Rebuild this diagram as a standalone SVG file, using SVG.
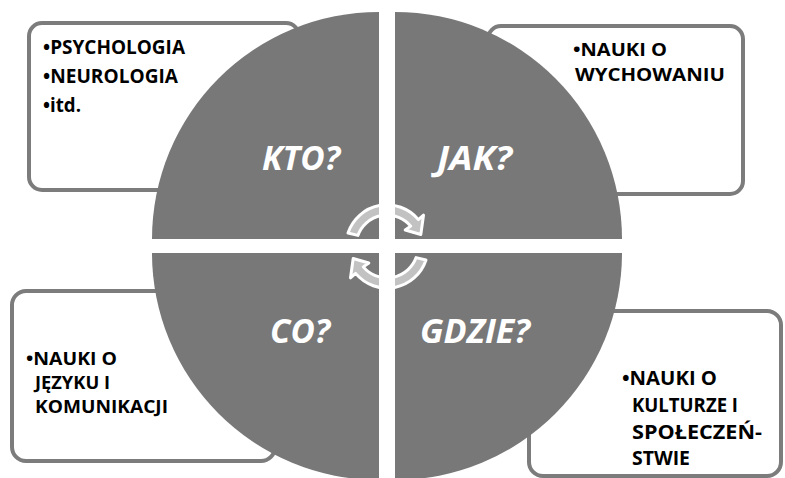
<svg xmlns="http://www.w3.org/2000/svg" width="785" height="478" viewBox="0 0 785 478">
<style>
.box{fill:#ffffff;stroke:#7c7c7c;stroke-width:4}
.q{fill:#787878}
.ql{font-family:"Open Sans","Liberation Sans",sans-serif;font-weight:bold;font-style:italic;font-size:34px;fill:#ffffff}
.bt{font-family:"Open Sans","Liberation Sans",sans-serif;font-weight:bold;font-size:19px;fill:#000000}
.sm{font-size:17.5px}
.arr{fill:#ffffff;fill-opacity:0.55;stroke:#ffffff;stroke-width:3;stroke-linejoin:round}
</style>
<rect width="785" height="478" fill="#ffffff"/>
<g id="box-kto">
<rect class="box" x="29" y="23" width="270" height="167" rx="13"/>
<text class="bt" x="43" y="54" textLength="142" lengthAdjust="spacingAndGlyphs">•PSYCHOLOGIA</text>
<text class="bt" x="43" y="83" textLength="135" lengthAdjust="spacingAndGlyphs">•NEUROLOGIA</text>
<text class="bt" x="43" y="112" textLength="38" lengthAdjust="spacingAndGlyphs">•itd.</text>
</g>
<g id="box-jak">
<rect class="box" x="488" y="26" width="255" height="168" rx="13"/>
<text class="bt sm" x="573" y="56" textLength="94" lengthAdjust="spacingAndGlyphs">•NAUKI O</text>
<text class="bt sm" x="575" y="81" textLength="150" lengthAdjust="spacingAndGlyphs">WYCHOWANIU</text>
</g>
<g id="box-co">
<rect class="box" x="12" y="291" width="263" height="170" rx="14"/>
<text class="bt sm" x="26" y="365" textLength="91" lengthAdjust="spacingAndGlyphs">•NAUKI O</text>
<text class="bt sm" x="35" y="389" textLength="75" lengthAdjust="spacingAndGlyphs">JĘZYKU I</text>
<text class="bt sm" x="35" y="413" textLength="133" lengthAdjust="spacingAndGlyphs">KOMUNIKACJI</text>
</g>
<g id="box-gdzie">
<rect class="box" x="529" y="311" width="252" height="165" rx="14"/>
<text class="bt" x="622" y="385" textLength="95" lengthAdjust="spacingAndGlyphs">•NAUKI O</text>
<text class="bt" x="632" y="412" textLength="106" lengthAdjust="spacingAndGlyphs">KULTURZE I</text>
<text class="bt" x="632" y="439" textLength="130" lengthAdjust="spacingAndGlyphs">SPOŁECZEŃ-</text>
<text class="bt" x="632" y="465" textLength="58" lengthAdjust="spacingAndGlyphs">STWIE</text>
</g>
<g id="quadrant-kto">
<path class="q" d="M379,239 L152,239 A227,227 0 0 1 379,12 Z"/>
<text class="ql" x="262" y="170" textLength="78" lengthAdjust="spacingAndGlyphs">KTO?</text>
</g>
<g id="quadrant-jak">
<path class="q" d="M395,239 L395,12 A227,227 0 0 1 622,239 Z"/>
<text class="ql" x="437" y="170" textLength="75" lengthAdjust="spacingAndGlyphs">JAK?</text>
</g>
<g id="quadrant-co">
<path class="q" d="M379,253 L379,480 A227,227 0 0 1 152,253 Z"/>
<text class="ql" x="270" y="343" textLength="60" lengthAdjust="spacingAndGlyphs">CO?</text>
</g>
<g id="quadrant-gdzie">
<path class="q" d="M395,253 L622,253 A227,227 0 0 1 395,480 Z"/>
<text class="ql" x="420" y="343" textLength="110" lengthAdjust="spacingAndGlyphs">GDZIE?</text>
</g>
<g id="connectors">
<path id="arrow-top" class="arr" d="M348,233 A41,41 0 0 1 418.4,219.6 L423.5,215.2 L420.8,234.5 L405.2,230 L410.7,226.1 A31,31 0 0 0 357.9,235.4 Z"/>
<path id="arrow-bottom" class="arr" transform="rotate(180 387 246.5)" d="M348,233 A41,41 0 0 1 418.4,219.6 L423.5,215.2 L420.8,234.5 L405.2,230 L410.7,226.1 A31,31 0 0 0 357.9,235.4 Z"/>
</g>
</svg>
